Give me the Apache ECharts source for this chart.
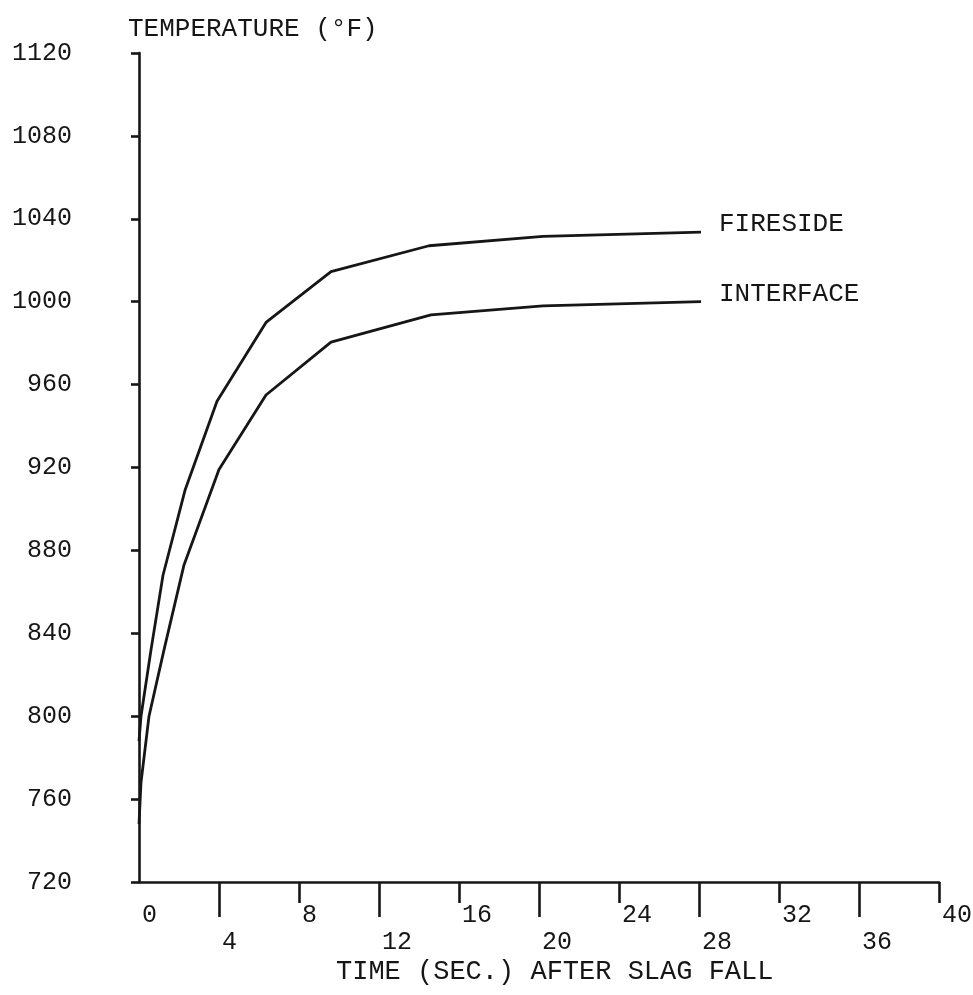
<!DOCTYPE html>
<html>
<head>
<meta charset="utf-8">
<title>Temperature after slag fall</title>
<script src="https://cdn.jsdelivr.net/npm/echarts@6/dist/echarts.min.js"></script>
<style>
  html, body { margin: 0; padding: 0; background: #ffffff; }
  #chart { width: 973px; height: 995px; }
</style>
</head>
<body>
<div id="chart"></div>
<script>
// Time after slag fall (s) and temperature (°F) for each surface
const firesideTime = [0, 0.1, 0.6, 1.2, 2.3, 3.9, 6.35, 9.6, 14.5, 20.2, 28.1];
const firesideTemp = [788, 800, 832, 868, 909, 952, 990, 1014.5, 1027, 1031.5, 1033.6];

const interfaceTime = [0, 0.1, 0.5, 1.25, 2.25, 4, 6.35, 9.6, 14.6, 20.2, 28.1];
const interfaceTemp = [748, 768, 800, 832, 873, 919, 955, 980.5, 993.6, 998, 1000];

// Time axis labels sit on two staggered rows
const upperRowTicks = [0, 8, 16, 24, 32, 40];
const lowerRowTicks = [4, 12, 20, 28, 36];

const yMin = 720, yMax = 1120, yStep = 40;
const xMin = 0, xMax = 40;

const ink = '#161616';
const mono = 'Liberation Mono';

const pairs = (xs, ys) => xs.map((x, i) => [x, ys[i]]);

const chart = echarts.init(document.getElementById('chart'), null, { renderer: 'canvas' });

const lineSeries = (name, data) => ({
  type: 'line',
  name: name,
  xAxisIndex: 0,
  yAxisIndex: 0,
  data: data,
  symbol: 'none',
  smooth: false,
  lineStyle: { color: ink, width: 2.8 },
  endLabel: {
    show: true,
    formatter: '{a}',
    distance: 18,
    offset: [0, -8],
    color: ink,
    fontFamily: mono,
    fontSize: 26
  }
});

const plainNumber = v => String(v);

chart.setOption({
  animation: false,
  backgroundColor: '#ffffff',
  grid: { left: 139, right: 34, top: 53, bottom: 113, containLabel: false, outerBoundsMode: 'none' },
  xAxis: [
    {
      type: 'value', min: xMin, max: xMax, position: 'bottom',
      axisLine: { show: true, lineStyle: { color: ink, width: 2.6 } },
      axisTick: { show: true, customValues: upperRowTicks.filter(v => v > 0), length: 21, lineStyle: { color: ink, width: 2.6 } },
      axisLabel: {
        customValues: upperRowTicks, showMinLabel: true, showMaxLabel: true,
        formatter: plainNumber,
        align: 'left', verticalAlign: 'middle', margin: 33, padding: [0, 0, 0, 3],
        color: ink, fontFamily: mono, fontSize: 25
      },
      splitLine: { show: false }
    },
    {
      type: 'value', min: xMin, max: xMax, position: 'bottom',
      axisLine: { show: false },
      axisTick: { show: true, customValues: lowerRowTicks, length: 35, lineStyle: { color: ink, width: 2.6 } },
      axisLabel: {
        customValues: lowerRowTicks,
        formatter: plainNumber,
        align: 'left', verticalAlign: 'middle', margin: 60, padding: [0, 0, 0, 3],
        color: ink, fontFamily: mono, fontSize: 25
      },
      splitLine: { show: false }
    }
  ],
  yAxis: {
    type: 'value', min: yMin, max: yMax, interval: yStep,
    axisLine: { show: true, lineStyle: { color: ink, width: 2.6 } },
    axisTick: { show: true, length: 8, lineStyle: { color: ink, width: 2.6 } },
    axisLabel: {
      formatter: plainNumber,
      margin: 67, align: 'right', verticalAlign: 'middle',
      color: ink, fontFamily: mono, fontSize: 25
    },
    splitLine: { show: false }
  },
  graphic: [
    {
      type: 'text', left: 128, top: 16,
      style: { text: 'TEMPERATURE (°F)', fill: ink, font: '26px "' + mono + '"' }
    },
    {
      type: 'text', left: 336, top: 958,
      style: { text: 'TIME (SEC.) AFTER SLAG FALL', fill: ink, font: '27px "' + mono + '"' }
    }
  ],
  series: [
    lineSeries('FIRESIDE', pairs(firesideTime, firesideTemp)),
    lineSeries('INTERFACE', pairs(interfaceTime, interfaceTemp))
  ]
});
</script>
</body>
</html>
